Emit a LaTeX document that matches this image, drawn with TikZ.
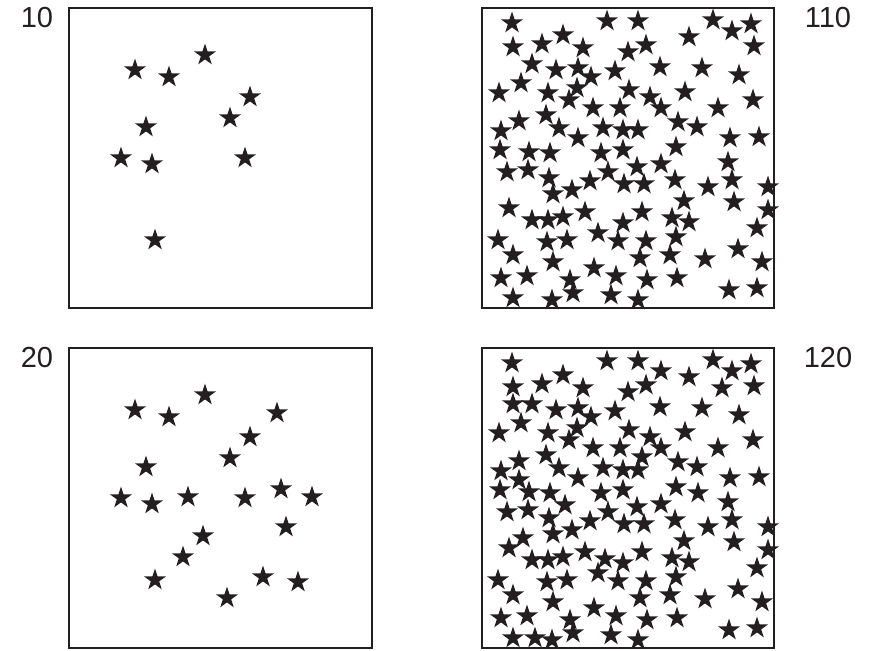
\documentclass[tikz,border=0pt]{standalone}
\usepackage{fontspec}
\setmainfont{Liberation Sans}
\usetikzlibrary{shapes.geometric}

\definecolor{inkgray}{HTML}{231F20}

\tikzset{
  starmark/.style={star, star points=5, star point ratio=2.618,
    minimum size=23pt, inner sep=0pt, draw=none, fill=inkgray},
  frame/.style={draw=inkgray, line width=1.8pt},
  countlabel/.style={font=\fontsize{29}{29}\selectfont, text=inkgray, inner sep=0pt}
}

% star positions (pt, y downwards), upper row; lower row repeats them
\newcommand{\starsten}{135/70, 169/77, 205/55, 250/97, 230/118, 146/127,
  121/158, 152/164, 245/158, 155/240}
\newcommand{\starstwenty}{277/73, 188/157, 281/149, 312/157, 286/187,
  203/196, 183/217, 263/237, 298/242, 227/258}
\newcommand{\starshundred}{512/23, 607/21, 563/35, 513/47, 542/44, 583/48,
  628/52, 532/64, 556/70, 578/68, 591/77, 615/71, 521/83, 499/93, 548/93,
  577/88, 569/100, 629/90, 593/108, 620/108, 546/115, 519/121, 559/128,
  603/128, 623/130, 501/131, 578/138, 500/150, 529/152, 550/153, 601/153,
  623/150,
  638/21, 713/20, 732/31, 751/24, 689/37, 754/46, 646/45, 660/67, 702/68,
  739/75, 650/97, 661/108, 685/92, 718/108, 753/100, 678/122, 697/127,
  638/130, 730/138, 759/137, 676/147,
  507/172, 528/170, 549/178, 608/172, 590/181, 624/184, 553/194, 572/190,
  509/208, 532/220, 548/220, 563/217, 585/212, 623/223, 498/240, 547/242,
  567/240, 598/233, 618/241, 513/255, 553/262, 594/268, 501/278, 527/276,
  570/280, 616/276, 513/298, 552/300, 573/293, 611/295,
  637/167, 661/164, 644/184, 675/180, 708/187, 728/162, 732/180, 768/187,
  684/201, 734/202, 768/210, 642/212, 672/218, 689/222, 757/228, 676/237,
  646/241, 640/258, 670/255, 705/259, 738/249, 762/262, 647/280, 677/278,
  729/290, 757/288, 638/300}
\newcommand{\starsextra}{513/64, 519/140, 565/165, 661/31, 722/48, 642/117,
  698/153, 523/198, 605/219, 535/298}

\begin{document}
\begin{tikzpicture}[x=1pt, y=-1pt]
\useasboundingbox (0,0) rectangle (869,650);

% Draw frames
\draw[frame] (69,8) rectangle (372,308);
\draw[frame] (482,8) rectangle (774,308);
\draw[frame] (69,348) rectangle (372,648);
\draw[frame] (482,348) rectangle (774,648);

% Counts
\node[countlabel] (lblten) at (37,18) {10};
\node[countlabel] (lblhundredten) at (828,18) {110};
\node[countlabel] (lbltwenty) at (37,358) {20};
\node[countlabel] (lblhundredtwenty) at (828,358) {120};

% Upper row
\foreach \x/\y in \starsten {\node[starmark] at (\x,\y) {};}
\foreach \x/\y in \starshundred {\node[starmark] at (\x,\y) {};}

% Lower row: same stars plus ten more
\begin{scope}[shift={(0,340)}]
\foreach \x/\y in \starsten {\node[starmark] at (\x,\y) {};}
\foreach \x/\y in \starstwenty {\node[starmark] at (\x,\y) {};}
\foreach \x/\y in \starshundred {\node[starmark] at (\x,\y) {};}
\foreach \x/\y in \starsextra {\node[starmark] at (\x,\y) {};}
\end{scope}
\end{tikzpicture}
\end{document}
